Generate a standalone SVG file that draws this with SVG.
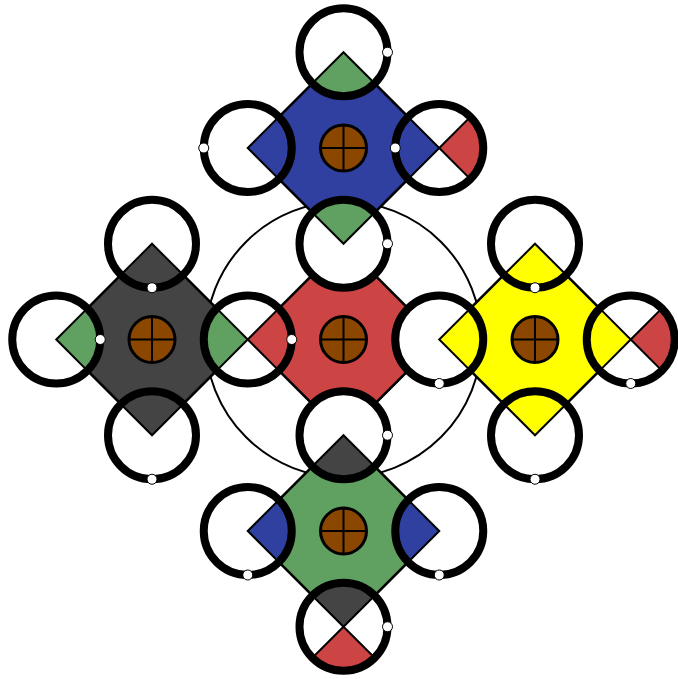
<svg xmlns="http://www.w3.org/2000/svg" xmlns:xlink="http://www.w3.org/1999/xlink" width="678" height="679" viewBox="0 0 678 679">
<style>
.dia{stroke:#000;stroke-width:2.5;stroke-linejoin:miter}
.sec{stroke:#000;stroke-width:2;stroke-linejoin:miter}
.bg{fill:#fff}
.ring{fill:none;stroke:#000;stroke-width:8}
.dot{fill:#fff;stroke:#000;stroke-width:1}
.cb{fill:#3040A0}
.cg{fill:#60A060}
.cr{fill:#CC4444}
.ck{fill:#444444}
.cy{fill:#FFFF00}
</style>
<defs>
<polygon id="dia" points="0,-95.75 95.75,0 0,95.75 -95.75,0"/>
<path id="sec" d="M0,0 L31.11,-31.11 A44,44 0 0 1 31.11,31.11 Z"/>
<g id="hub"><circle r="23" fill="#8B4600" stroke="#000" stroke-width="3"/><path d="M-23,0H23M0,-23V23" stroke="#000" stroke-width="2" fill="none"/></g>
</defs>
<rect width="678" height="679" fill="#fff"/>
<g id="connectors">
<circle cx="343.5" cy="339.5" r="138" fill="none" stroke="#000" stroke-width="2"/>
</g>
<g id="node-blue" transform="translate(343.5,148)">
<use href="#dia" class="dia cb"/>
<g transform="translate(0,-95.75)"><circle r="44" class="bg"/><use href="#sec" class="sec cg" transform="rotate(90)"/><circle r="44" class="ring"/><circle cx="44" cy="0" r="5" class="dot"/></g>
<g transform="translate(-95.75,0)"><circle r="44" class="bg"/><use href="#sec" class="sec cb"/><circle r="44" class="ring"/><circle cx="-44" cy="0" r="5" class="dot"/></g>
<g transform="translate(95.75,0)"><circle r="44" class="bg"/><use href="#sec" class="sec cb" transform="rotate(180)"/><use href="#sec" class="sec cr"/><circle r="44" class="ring"/><circle cx="-44" cy="0" r="5" class="dot"/></g>
<use href="#hub"/>
</g>
<g id="node-black" transform="translate(152,339.5)">
<use href="#dia" class="dia ck"/>
<g transform="translate(0,-95.75)"><circle r="44" class="bg"/><use href="#sec" class="sec ck" transform="rotate(90)"/><circle r="44" class="ring"/><circle cx="0" cy="44" r="5" class="dot"/></g>
<g transform="translate(-95.75,0)"><circle r="44" class="bg"/><use href="#sec" class="sec cg"/><circle r="44" class="ring"/><circle cx="44" cy="0" r="5" class="dot"/></g>
<g transform="translate(0,95.75)"><circle r="44" class="bg"/><use href="#sec" class="sec ck" transform="rotate(-90)"/><circle r="44" class="ring"/><circle cx="0" cy="44" r="5" class="dot"/></g>
<use href="#hub"/>
</g>
<g id="node-yellow" transform="translate(535,339.5)">
<use href="#dia" class="dia cy"/>
<g transform="translate(0,-95.75)"><circle r="44" class="bg"/><use href="#sec" class="sec cy" transform="rotate(90)"/><circle r="44" class="ring"/><circle cx="0" cy="44" r="5" class="dot"/></g>
<g transform="translate(95.75,0)"><circle r="44" class="bg"/><use href="#sec" class="sec cy" transform="rotate(180)"/><use href="#sec" class="sec cr"/><circle r="44" class="ring"/><circle cx="0" cy="44" r="5" class="dot"/></g>
<g transform="translate(0,95.75)"><circle r="44" class="bg"/><use href="#sec" class="sec cy" transform="rotate(-90)"/><circle r="44" class="ring"/><circle cx="0" cy="44" r="5" class="dot"/></g>
<use href="#hub"/>
</g>
<g id="node-green" transform="translate(343.5,531)">
<use href="#dia" class="dia cg"/>
<g transform="translate(-95.75,0)"><circle r="44" class="bg"/><use href="#sec" class="sec cb"/><circle r="44" class="ring"/><circle cx="0" cy="44" r="5" class="dot"/></g>
<g transform="translate(95.75,0)"><circle r="44" class="bg"/><use href="#sec" class="sec cb" transform="rotate(180)"/><circle r="44" class="ring"/><circle cx="0" cy="44" r="5" class="dot"/></g>
<g transform="translate(0,95.75)"><circle r="44" class="bg"/><use href="#sec" class="sec ck" transform="rotate(-90)"/><use href="#sec" class="sec cr" transform="rotate(90)"/><circle r="44" class="ring"/><circle cx="44" cy="0" r="5" class="dot"/></g>
<use href="#hub"/>
</g>
<g id="node-red" transform="translate(343.5,339.5)">
<use href="#dia" class="dia cr"/>
<g transform="translate(0,-95.75)"><circle r="44" class="bg"/><use href="#sec" class="sec cg" transform="rotate(-90)"/><circle r="44" class="ring"/><circle cx="44" cy="0" r="5" class="dot"/></g>
<g transform="translate(-95.75,0)"><circle r="44" class="bg"/><use href="#sec" class="sec cg" transform="rotate(180)"/><use href="#sec" class="sec cr"/><circle r="44" class="ring"/><circle cx="44" cy="0" r="5" class="dot"/></g>
<g transform="translate(95.75,0)"><circle r="44" class="bg"/><use href="#sec" class="sec cy"/><circle r="44" class="ring"/><circle cx="0" cy="44" r="5" class="dot"/></g>
<g transform="translate(0,95.75)"><circle r="44" class="bg"/><use href="#sec" class="sec ck" transform="rotate(90)"/><circle r="44" class="ring"/><circle cx="44" cy="0" r="5" class="dot"/></g>
<use href="#hub"/>
</g>
</svg>
